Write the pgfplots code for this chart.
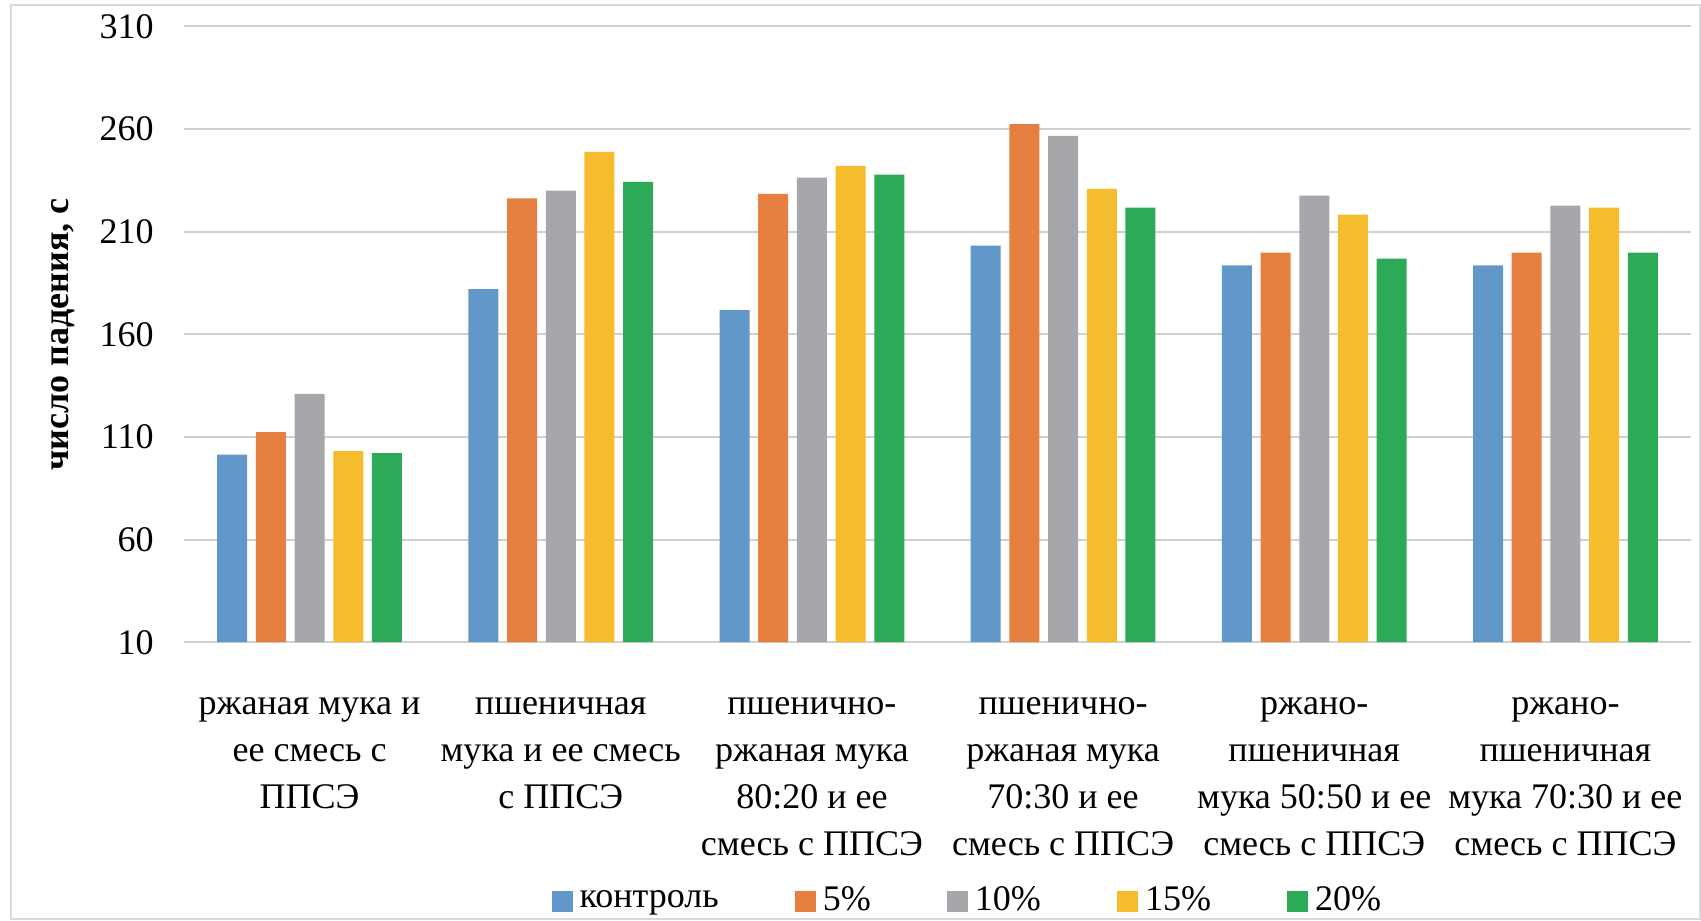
\documentclass[border=0pt]{standalone}
\usepackage{fontspec}
\setmainfont{Liberation Serif}
\usepackage{pgfplots}
\usepackage{pgfplotstable}
\pgfplotsset{compat=1.18}
\definecolor{cA}{RGB}{98,151,202}
\definecolor{cB}{RGB}{229,128,64}
\definecolor{cC}{RGB}{166,167,171}
\definecolor{cD}{RGB}{245,189,45}
\definecolor{cE}{RGB}{45,170,88}
\definecolor{gridgray}{RGB}{208,208,208}
\definecolor{framegray}{RGB}{217,217,217}
\pgfplotstableread{
x c p5 p10 p15 p20
0 101.3 112.3 130.9 103.1 102.1
1 181.9 226.1 229.9 248.8 234.2
2 171.7 228.4 236.2 242.0 237.7
3 203.2 262.3 256.6 230.8 221.6
4 193.5 199.7 227.5 218.3 196.8
5 193.5 199.7 222.6 221.6 199.7
}\datatable
\newcommand{\lblfont}{\fontsize{10.25}{13.4}\selectfont}
\begin{document}
\begin{tikzpicture}
\useasboundingbox (-18.4mm,-27.78mm) rectangle (151.7mm,64.22mm);
\draw[framegray, line width=0.2mm] (-17.3mm,-27.7mm) rectangle (151.6mm,63.68mm);
\begin{axis}[
  at={(0,0)}, anchor=south west,
  scale only axis, width=150.7mm, height=61.6mm,
  ybar=0.87mm, bar width=3mm,
  xmin=-0.5, xmax=5.5, ymin=10, ymax=310,
  ytick={10,60,...,310}, xtick={0,...,5},
  xticklabels={
    {\strut ржаная мука и\\ее смесь с\\ППСЭ},
    {\strut пшеничная\\мука и ее смесь\\с ППСЭ},
    {\strut пшенично-\\ржаная мука\\80:20 и ее\\смесь с ППСЭ},
    {\strut пшенично-\\ржаная мука\\70:30 и ее\\смесь с ППСЭ},
    {\strut ржано-\\пшеничная\\мука 50:50 и ее\\смесь с ППСЭ},
    {\strut ржано-\\пшеничная\\мука 70:30 и ее\\смесь с ППСЭ}},
  axis line style={draw=none},
  major tick length=0pt,
  ymajorgrids,
  grid style={draw=gridgray, line width=0.2mm},
  /pgf/number format/assume math mode=true,
  yticklabel style={font=\lblfont, xshift=-1.8mm},
  xticklabel style={font=\lblfont, align=center, anchor=north, yshift=-2.7mm},
  ylabel={число падения, с},
  ylabel style={font=\lblfont\bfseries, at={(axis description cs:-0.0803,0.5)}, anchor=center},
  legend columns=5,
  legend style={at={(axis description cs:0.2435,-0.421)}, anchor=west, draw=none, fill=none,
    inner sep=0pt, font=\lblfont,
    /tikz/every even column/.append style={column sep=6.9mm}},
  legend image code/.code={\fill[#1] (0mm,-1.05mm) rectangle (2.1mm,1.05mm);},
]
\addplot[fill=cA, draw=none] table[x=x, y=c] {\datatable};
\addplot[fill=cB, draw=none] table[x=x, y=p5] {\datatable};
\addplot[fill=cC, draw=none] table[x=x, y=p10] {\datatable};
\addplot[fill=cD, draw=none] table[x=x, y=p15] {\datatable};
\addplot[fill=cE, draw=none] table[x=x, y=p20] {\datatable};
\legend{контроль, 5\%, 10\%, 15\%, 20\%}
\end{axis}
\end{tikzpicture}
\end{document}
